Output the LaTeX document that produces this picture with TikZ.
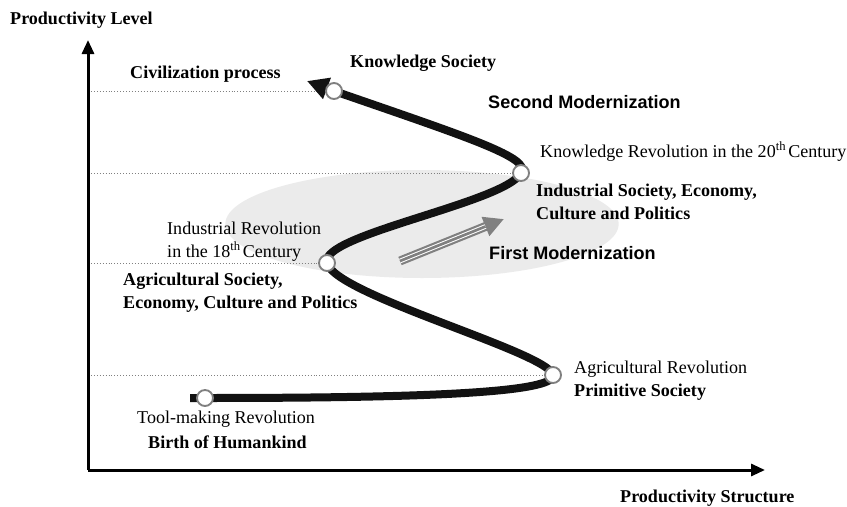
\documentclass[tikz,border=0pt]{standalone}
\usepackage{fontspec}
\setmainfont{Liberation Serif}
\setsansfont{Liberation Sans}
\usetikzlibrary{arrows.meta}

\tikzset{
  lbl/.style={anchor=base west, inner sep=0pt, font=\fontsize{15.4}{18}\selectfont},
  blbl/.style={lbl, font=\fontsize{15.4}{18}\selectfont\bfseries},
  slbl/.style={lbl, font=\fontsize{15.4}{18}\selectfont\sffamily\bfseries},
  axis/.style={line width=0.09cm, -{Triangle[length=0.42cm, width=0.36cm]}},
  guide/.style={gray, dotted, line width=0.5pt},
  haze/.style={fill=black!8},
  civpath/.style={line width=0.24cm, black!93, -{Triangle[length=0.64cm, width=0.64cm]}},
  stage/.style={circle, draw=gray, fill=white, line width=1.6pt, inner sep=0pt, minimum size=0.48cm}
}

\begin{document}
\begin{tikzpicture}[x=0.03cm, y=-0.03cm, line join=round]
  \useasboundingbox (0,0) rectangle (847,506);

  % axes end points
  \coordinate (O) at (88,470);
  \coordinate (ytop) at (88,40);
  \coordinate (xend) at (765,470);

  % shaded band round the first modernization
  \fill[haze] (422,224) ellipse [x radius=5.9cm, y radius=1.62cm];

  % stages along the path
  \coordinate (start) at (190,398);
  \coordinate (tool) at (205,398);
  \coordinate (agri) at (553,375);
  \coordinate (indu) at (327,263);
  \coordinate (know) at (521,173);
  \coordinate (civ) at (334,91);
  \coordinate (tip) at (307,81);

  % dotted levels back to the vertical axis
  \foreach \p in {agri, indu, know, civ}
    \draw[guide] (O |- \p) -- (\p);

  % axes
  \draw[axis] (O) -- (ytop);
  \draw[axis] (O) -- (xend);

  % civilization path
  \draw[civpath] (start) -- (tool)
    .. controls (420,398) and (556,393) .. (agri)
    .. controls (548,352) and (335,295) .. (indu)
    .. controls (318,235) and (505,203) .. (know)
    .. controls (532,158) and (470,138) .. (civ) -- (tip);

  \foreach \p in {tool, agri, indu, know, civ}
    \node[stage] (\p pt) at (\p) {};

  % first modernization arrow (three gray strokes)
  \coordinate (fmtail) at (400,261);
  \coordinate (fmtip) at (504,219);
  \draw[black!50, line width=0.27cm, -{Triangle[length=0.6cm, width=0.58cm]}] (fmtail) -- (fmtip);
  \draw[draw=white, double=black!50, line width=0.03cm, double distance=0.08cm, shorten >=0.6cm] (fmtail) -- (fmtip);

  % axis titles
  \node[blbl] (ylabel) at (10,25) {Productivity Level};
  \node[blbl] (xlabel) at (620,502) {Productivity Structure};

  % stage labels
  \node[blbl] (civlbl) at (130,78) {Civilization process};
  \node[blbl] (kslbl) at (350,68) {Knowledge Society};
  \node[slbl] (smlbl) at (488,108) {Second Modernization};
  \node[lbl] (krlbl) at (540,157) {Knowledge Revolution in the 20\textsuperscript{th}\hspace{0.12em}Century};
  \node[blbl] (islbl) at (536,196) {Industrial Society, Economy,};
  \node[blbl] (islbl2) at (536,219) {Culture and Politics};
  \node[lbl] (irlbl) at (167,234) {Industrial Revolution};
  \node[lbl] (irlbl2) at (167,257) {in the 18\textsuperscript{th}\hspace{0.12em}Century};
  \node[slbl] (fmlbl) at (489,259) {First Modernization};
  \node[blbl] (aslbl) at (123,285) {Agricultural Society,};
  \node[blbl] (aslbl2) at (123,308) {Economy, Culture and Politics};
  \node[lbl] (arlbl) at (574,373) {Agricultural Revolution};
  \node[blbl] (pslbl) at (574,396) {Primitive Society};
  \node[lbl] (tmlbl) at (137,423) {Tool-making Revolution};
  \node[blbl] (bhlbl) at (148,448) {Birth of Humankind};
\end{tikzpicture}
\end{document}
